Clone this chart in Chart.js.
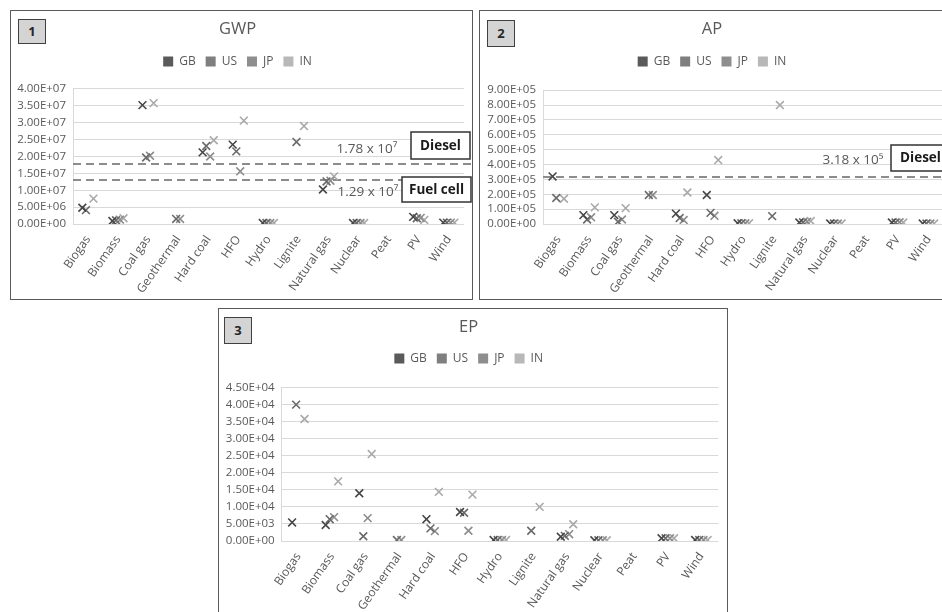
<!DOCTYPE html>
<html><head><meta charset="utf-8">
<script src="https://cdn.jsdelivr.net/npm/chart.js@4.4.1/dist/chart.umd.min.js"></script>
<style>
html,body{margin:0;padding:0;background:#fff;width:942px;height:612px;overflow:hidden;position:relative;font-family:'Open Sans',sans-serif}
.panel{position:absolute;box-sizing:border-box;border:1px solid #5a5a5a;background:#fff}
.panel canvas{position:absolute;left:0;top:0}
.num{position:absolute;box-sizing:border-box;border:1.5px solid #404040;background:#d4d4d4;font:bold 13px 'Open Sans',sans-serif;color:#262626;text-align:center;z-index:2}
</style></head><body>
<div class="panel" style="left:10px;top:10px;width:463px;height:290px">
  <canvas id="c1" width="461" height="288" style="width:461px;height:288px"></canvas>
  <div class="num" style="left:7px;top:8px;width:28px;height:25px;line-height:22px">1</div>
</div>
<div class="panel" style="left:479px;top:10px;width:474px;height:290px">
  <canvas id="c2" width="472" height="288" style="width:472px;height:288px"></canvas>
  <div class="num" style="left:7px;top:9px;width:28px;height:27px;line-height:24px">2</div>
</div>
<div class="panel" style="left:218px;top:308px;width:510px;height:320px">
  <canvas id="c3" width="508" height="318" style="width:508px;height:318px"></canvas>
  <div class="num" style="left:5px;top:8px;width:28px;height:27px;line-height:24px">3</div>
</div>
<script>
const categories = ['Biogas','Biomass','Coal gas','Geothermal','Hard coal','HFO','Hydro','Lignite','Natural gas','Nuclear','Peat','PV','Wind'];
const countries = ['GB','US','JP','IN'];

// GWP
const gwpGB = [4.8e6, 0.9e6, 3.52e7, null, 2.12e7, 2.35e7, 3e5, null, 1.02e7, 3e5, null, 2.1e6, 4e5];
const gwpUS = [4.1e6, 1.1e6, 1.97e7, 1.5e6, 2.31e7, 2.15e7, 3e5, 2.43e7, 1.26e7, 3e5, null, 1.7e6, 4e5];
const gwpJP = [null, 1.3e6, 2.02e7, 1.5e6, 2.0e7, 1.56e7, 3e5, null, 1.28e7, 3e5, null, 1.8e6, 4e5];
const gwpIN = [7.5e6, 1.7e6, 3.58e7, null, 2.48e7, 3.06e7, 3e5, 2.9e7, 1.41e7, 3e5, null, 1.2e6, 4e5];
const gwpRefNames = ['Diesel', 'Fuel cell'];
const gwpRefValues = [1.78e7, 1.29e7];
const gwpRefTexts = ['1.78 x 10\u2077', '1.29 x 10\u2077'];

// AP
const apGB = [3.2e5, 6e4, 6e4, null, 7e4, 1.95e5, 5e3, null, 1.0e4, 3e3, null, 1.0e4, 3e3];
const apUS = [1.75e5, 3e4, 1.5e4, 1.95e5, 4e4, 7.5e4, 5e3, 5.3e4, 1.2e4, 3e3, null, 1.0e4, 3e3];
const apJP = [null, 4.5e4, 3e4, 1.95e5, 2.7e4, 5.5e4, 5e3, null, 1.5e4, 3e3, null, 1.2e4, 3e3];
const apIN = [1.7e5, 1.12e5, 1.07e5, null, 2.12e5, 4.3e5, 5e3, 8.0e5, 2.0e4, 3e3, null, 1.0e4, 3e3];
const apRefNames = ['Diesel'];
const apRefValues = [3.18e5];
const apRefTexts = ['3.18 x 10\u2075'];

// EP
const epGB = [5.45e3, 4.7e3, 1.4e4, null, 6.4e3, 8.5e3, 3e2, null, 1.25e3, 2e2, null, 8e2, 3e2];
const epUS = [4.0e4, 6.4e3, 1.4e3, 3e2, 3.7e3, 8.3e3, 3e2, 3.0e3, 1.5e3, 2e2, null, 8e2, 3e2];
const epJP = [null, 7.0e3, 6.7e3, 3e2, 2.9e3, 3.0e3, 3e2, null, 2.0e3, 2e2, null, 8e2, 3e2];
const epIN = [3.58e4, 1.75e4, 2.55e4, null, 1.44e4, 1.36e4, 3e2, 1.0e4, 4.9e3, 2e2, null, 8e2, 3e2];

const gwpAxisMax = 4e7, gwpAxisStep = 5e6;
const apAxisMax = 9e5, apAxisStep = 1e5;
const epAxisMax = 4.5e4, epAxisStep = 5e3;

const F = "'Open Sans', 'DejaVu Sans', sans-serif";
const markerColors = ['#474747','#6a6a6a','#8c8c8c','#a9a9a9'];
const legendColors = ['#5a5a5a','#7f7f7f','#8e8e8e','#b8b8b8'];
const offsets = [-0.19,-0.07,0.06,0.18];

function sci(v){
  if (v === 0) return '0.00E+00';
  const e = Math.floor(Math.log10(Math.abs(v)) + 1e-9);
  const m = v / Math.pow(10, e);
  return m.toFixed(2) + 'E' + (e < 0 ? '-' : '+') + String(Math.abs(e)).padStart(2,'0');
}

function refPlugin(names, values, texts, layout){
  return {
    id: 'refLines',
    beforeDatasetsDraw(chart){
      const ctx = chart.ctx, ca = chart.chartArea, y = chart.scales.y;
      values.forEach(v => {
        const py = Math.round(y.getPixelForValue(v));
        ctx.save();
        ctx.strokeStyle = '#8c8c8c'; ctx.lineWidth = 2; ctx.setLineDash([8,5]);
        ctx.beginPath(); ctx.moveTo(ca.left, py); ctx.lineTo(chart.width, py); ctx.stroke();
        ctx.restore();
      });
    },
    afterDatasetsDraw(chart){
      const ctx = chart.ctx, ca = chart.chartArea, y = chart.scales.y;
      values.forEach((v, i) => {
        const py = Math.round(y.getPixelForValue(v));
        const L = layout[i];
        ctx.save();
        ctx.font = '13.5px ' + F; ctx.fillStyle = '#595959';
        ctx.textAlign = 'center'; ctx.textBaseline = 'middle';
        ctx.fillText(texts[i], ca.right + L.num[0], py + L.num[1]);
        const bx = ca.right + L.box[0], by = py + L.box[1];
        const bw = L.box[2] - L.box[0], bh = L.box[3] - L.box[1];
        ctx.fillStyle = '#fff'; ctx.fillRect(bx, by, bw, bh);
        ctx.strokeStyle = '#333'; ctx.lineWidth = 1.5; ctx.strokeRect(bx, by, bw, bh);
        ctx.font = 'bold 13.5px ' + F; ctx.fillStyle = '#1a1a1a';
        ctx.fillText(names[i], bx + bw/2, by + bh/2 + 0.5);
        ctx.restore();
      });
    }
  };
}

function build(id, cfg){
  const datasets = cfg.series.map((vals, k) => ({
    label: countries[k],
    data: vals.map((v, i) => v == null ? null : {x: i + offsets[k], y: v}).filter(p => p),
    pointStyle: 'crossRot', pointRadius: 5.5, pointHoverRadius: 5.5, pointBorderWidth: 1.6,
    borderColor: markerColors[k], backgroundColor: markerColors[k], showLine: false
  }));
  return new Chart(document.getElementById(id), {
    type: 'scatter',
    data: {datasets},
    plugins: [refPlugin(cfg.refNames, cfg.refValues, cfg.refTexts, cfg.refLayout)],
    options: {
      responsive: false, animation: false, devicePixelRatio: 1,
      layout: {padding: {top: 8.4, left: 0, right: cfg.padR, bottom: 0}},
      plugins: {
        title: {display: true, text: cfg.title, color: '#595959', font: {family: F, size: 16.5, weight: 'normal'}, padding: {top: 0, bottom: cfg.tb}},
        subtitle: {display: true, text: '', weight: 500, font: {size: 1, lineHeight: 1}, padding: {top: 0, bottom: cfg.spacer - 1}},
        legend: {display: true, labels: {boxWidth: 10, boxHeight: 10, padding: 10, color: '#595959', font: {family: F, size: 12},
          generateLabels: () => countries.map((c, i) => ({text: c, fillStyle: legendColors[i], strokeStyle: legendColors[i], lineWidth: 0, hidden: false, datasetIndex: i, fontColor: '#595959'}))}},
        tooltip: {enabled: false}
      },
      scales: {
        x: {type: 'linear', min: -0.5, max: 12.5,
          afterBuildTicks: s => { s.ticks = categories.map((c, i) => ({value: i})); },
          afterFit: s => { s.height = cfg.xH; },
          grid: {display: false, drawTicks: false}, border: {display: false},
          ticks: {autoSkip: false, maxRotation: 55, minRotation: 55, padding: 9, color: '#595959', font: {family: F, size: 12},
            callback: v => categories[v]}},
        y: {min: 0, max: cfg.max,
          afterFit: s => { s.width = cfg.yW; },
          grid: {color: '#d9d9d9', drawTicks: false}, border: {display: true, color: '#d9d9d9'},
          ticks: {autoSkip: false, stepSize: cfg.step, padding: 7, color: '#595959', font: {family: F, size: 11.5}, callback: v => sci(v)}}
      }
    }
  });
}

build('c1', {title: 'GWP', series: [gwpGB, gwpUS, gwpJP, gwpIN], max: gwpAxisMax, step: gwpAxisStep,
  yW: 62, padR: 8, xH: 75, tb: 6.2, spacer: 11.5,
  refNames: gwpRefNames, refValues: gwpRefValues, refTexts: gwpRefTexts,
  refLayout: [{num: [-97, -15], box: [-53, -32, 6, -5]}, {num: [-96, 12], box: [-62, -3, 7, 22]}]});
build('c2', {title: 'AP', series: [apGB, apUS, apJP, apIN], max: apAxisMax, step: apAxisStep,
  yW: 63, padR: 8, xH: 75, tb: 6.2, spacer: 12.8,
  refNames: apRefNames, refValues: apRefValues, refTexts: apRefTexts,
  refLayout: [{num: [-91, -17], box: [-53, -32, 6, -6]}]});
build('c3', {title: 'EP', series: [epGB, epUS, epJP, epIN], max: epAxisMax, step: epAxisStep,
  yW: 62.7, padR: 8.7, xH: 86, tb: 5.2, spacer: 13.2,
  refNames: [], refValues: [], refTexts: [], refLayout: []});
</script>
</body></html>
